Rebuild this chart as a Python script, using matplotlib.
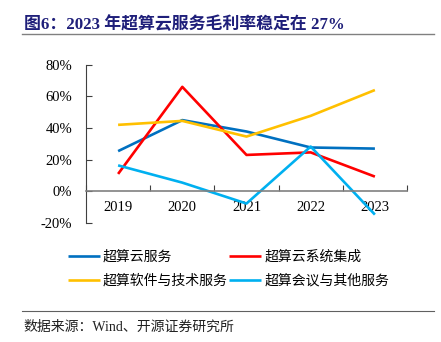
import numpy as np
import matplotlib
matplotlib.use("Agg")
from matplotlib import pyplot as plt
from matplotlib.ticker import FuncFormatter

plt.rcParams['font.family'] = ['Liberation Serif', 'Noto Sans CJK SC', 'DejaVu Sans']

years = ['2019', '2020', '2021', '2022', '2023']
cloud_service = [25.4, 45.0, 37.8, 27.7, 27.0]
cloud_integration = [11.0, 66.0, 23.0, 24.6, 9.3]
software_tech = [42.0, 44.5, 34.6, 47.7, 64.0]
meeting_other = [16.4, 5.5, -7.7, 28.3, -14.7]

names = ['超算云服务', '超算云系统集成', '超算软件与技术服务', '超算会议与其他服务']
colors = ['#0070C0', '#FF0000', '#FFC000', '#00B0F0']
series = [cloud_service, cloud_integration, software_tech, meeting_other]

fig = plt.figure(figsize=(4.41, 3.42), dpi=100)
ax = fig.add_axes([86/441, 1-223/342, (407-86)/441, (223-64.7)/342])

x = np.arange(len(years))
lines = []
for vals, c, n in zip(series, colors, names):
    l, = ax.plot(x, vals, color=c, lw=1.9, label=n, solid_capstyle='butt')
    lines.append(l)

ax.set_xlim(-0.5, len(years)-0.5)
ax.set_ylim(-20, 80)
ax.set_yticks(np.arange(-20, 81, 20))
ax.yaxis.set_major_formatter(FuncFormatter(lambda v, p: '%d%%' % v))
ax.set_xticks(x)
ax.set_xticklabels(years)
ax.set_xticks(np.arange(-0.5, len(years), 1), minor=True)

for s in ['top', 'right']:
    ax.spines[s].set_visible(False)
ax.spines['bottom'].set_position(('data', 0))
ax.spines['bottom'].set_color('#808080')
ax.spines['bottom'].set_linewidth(1.2)
ax.spines['left'].set_color('#404040')
ax.spines['left'].set_linewidth(0.8)

ax.tick_params(axis='y', direction='in', length=4, width=0.8, color='#404040',
               labelsize=10.5, pad=10)
ax.tick_params(axis='x', which='major', length=0, labelsize=10.5, pad=7)
ax.tick_params(axis='x', which='minor', direction='in', length=4, width=0.8, color='#404040')

# legend fills column-wise, so reorder to get row order of the reference
order = [0, 2, 1, 3]
fig.legend(handles=[lines[i] for i in order], labels=[names[i] for i in order],
           ncol=2, loc='upper left',
           bbox_to_anchor=(62/441, 1-244/342), frameon=False,
           prop={'family': ['Noto Sans CJK SC'], 'size': 10},
           handlelength=2.3, handletextpad=0.25, columnspacing=0.1,
           labelspacing=0.75, borderaxespad=0)

fig.text(24/441, 1-24/342, '图6：2023 年超算云服务毛利率稳定在 27%', fontsize=12.2,
         fontweight='bold', color='#1F1F7A', va='center', ha='left')
fig.add_artist(plt.Line2D([22/441, 434/441], [1-34/342, 1-34/342], color='#808080', lw=1.0))
fig.add_artist(plt.Line2D([22/441, 434/441], [1-311/342, 1-311/342], color='#606060', lw=0.8))
fig.text(23/441, 1-327/342, '数据来源：Wind、开源证券研究所', fontsize=10,
         color='#202020', va='center', ha='left')

fig.savefig('out.png', dpi=100)
